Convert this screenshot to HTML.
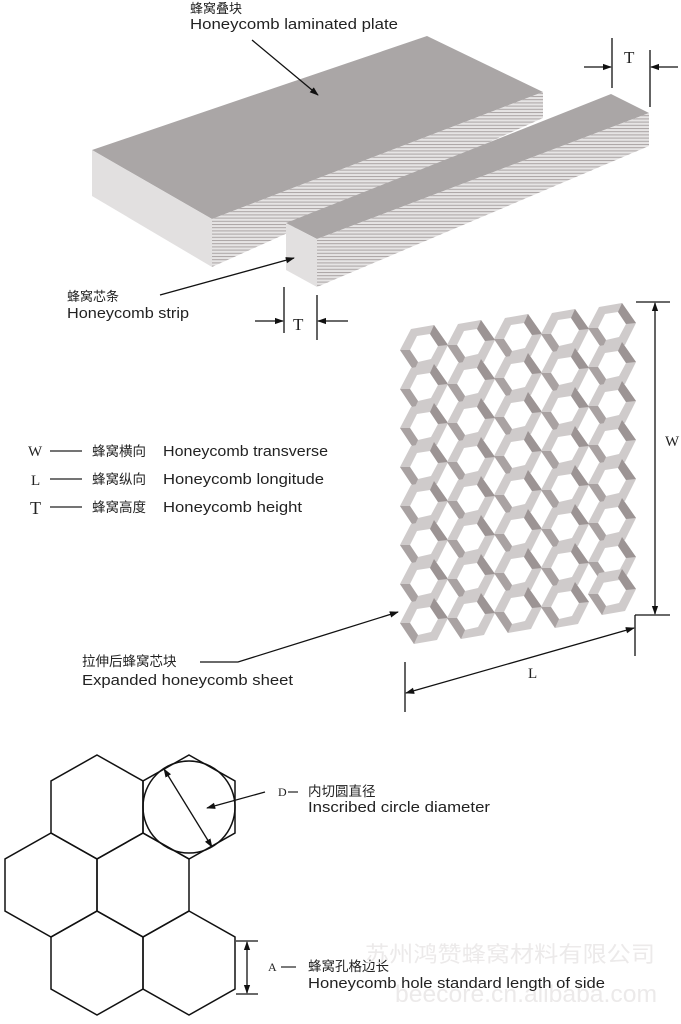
<!DOCTYPE html>
<html><head><meta charset="utf-8"><style>
html,body{margin:0;padding:0;background:#fff;}
svg{display:block;}
text{font-family:"Liberation Sans","Noto Sans CJK SC",sans-serif;fill:#222;}
.s{font-family:"Liberation Serif","Noto Serif CJK SC",serif;}
</style></head><body>
<svg width="681" height="1024" viewBox="0 0 681 1024" xmlns="http://www.w3.org/2000/svg">
<defs>
<marker id="ar" viewBox="0 0 10 10" refX="9" refY="5" markerWidth="7" markerHeight="7" orient="auto-start-reverse"><path d="M0,1.5 L10,5 L0,8.5 z" fill="#111"/></marker>
<pattern id="str" width="3" height="3.2" patternUnits="userSpaceOnUse"><rect width="3" height="3.2" fill="#e6e4e4"/><rect width="3" height="1" fill="#aaa4a4"/></pattern>
<g id="cell">
<path d="M-24,2 L-13,-19 L10,-23 L24,-3 L13,19 L-10,23 Z M-14,2 L-7,-12 L6,-14 L14,-2 L7,11 L-6,14 Z" fill="#cfcbcb" fill-rule="evenodd"/>
<path d="M10,-23 L24,-3 L14,-2 L6,-14 Z" fill="#9c9494"/>
<path d="M-24,2 L-14,2 L-6,14 L-10,23 Z" fill="#a9a2a2"/>
</g>
</defs>

<text x="190" y="13" font-size="13">蜂窝叠块</text>
<text x="190" y="29" font-size="15" textLength="208" lengthAdjust="spacingAndGlyphs">Honeycomb laminated plate</text>

<polygon points="92,150 427,36 543,92 212,219" fill="#aaa6a6"/>
<polygon points="92,150 212,219 212,267 92,196" fill="#e2e0e0"/>
<polygon points="212,219 543,92 543,118 212,267" fill="url(#str)"/>
<polygon points="286,223 611,94 649,113 317,239" fill="#aaa6a6"/>
<polygon points="286,223 317,239 317,287 286,270" fill="#e2e0e0"/>
<polygon points="317,239 649,113 649,146 317,287" fill="url(#str)"/>

<line x1="252" y1="40" x2="318" y2="95" stroke="#111" stroke-width="1.3" marker-end="url(#ar)"/>
<line x1="160" y1="295" x2="294" y2="258" stroke="#111" stroke-width="1.3" marker-end="url(#ar)"/>
<text x="67" y="301" font-size="13">蜂窝芯条</text>
<text x="67" y="318" font-size="15" textLength="122" lengthAdjust="spacingAndGlyphs">Honeycomb strip</text>

<line x1="612" y1="38" x2="612" y2="88" stroke="#111" stroke-width="1.3"/>
<line x1="650" y1="50" x2="650" y2="107" stroke="#111" stroke-width="1.3"/>
<line x1="584" y1="67" x2="611" y2="67" stroke="#111" stroke-width="1.3" marker-end="url(#ar)"/>
<line x1="678" y1="67" x2="651" y2="67" stroke="#111" stroke-width="1.3" marker-end="url(#ar)"/>
<text x="624" y="63" font-size="17" class="s">T</text>
<line x1="284" y1="287" x2="284" y2="333" stroke="#111" stroke-width="1.3"/>
<line x1="317" y1="295" x2="317" y2="340" stroke="#111" stroke-width="1.3"/>
<line x1="255" y1="321" x2="283" y2="321" stroke="#111" stroke-width="1.3" marker-end="url(#ar)"/>
<line x1="348" y1="321" x2="318" y2="321" stroke="#111" stroke-width="1.3" marker-end="url(#ar)"/>
<text x="293" y="330" font-size="17" class="s">T</text>

<g>
<use href="#cell" x="424" y="348"/><use href="#cell" x="424" y="387"/><use href="#cell" x="424" y="426"/><use href="#cell" x="424" y="465"/><use href="#cell" x="424" y="504"/><use href="#cell" x="424" y="543"/><use href="#cell" x="424" y="582"/><use href="#cell" x="424" y="621"/>
<use href="#cell" x="471" y="343"/><use href="#cell" x="471" y="382"/><use href="#cell" x="471" y="421"/><use href="#cell" x="471" y="460"/><use href="#cell" x="471" y="499"/><use href="#cell" x="471" y="538"/><use href="#cell" x="471" y="577"/><use href="#cell" x="471" y="616"/>
<use href="#cell" x="518" y="337"/><use href="#cell" x="518" y="376"/><use href="#cell" x="518" y="415"/><use href="#cell" x="518" y="454"/><use href="#cell" x="518" y="493"/><use href="#cell" x="518" y="532"/><use href="#cell" x="518" y="571"/><use href="#cell" x="518" y="610"/>
<use href="#cell" x="565" y="332"/><use href="#cell" x="565" y="371"/><use href="#cell" x="565" y="410"/><use href="#cell" x="565" y="449"/><use href="#cell" x="565" y="488"/><use href="#cell" x="565" y="527"/><use href="#cell" x="565" y="566"/><use href="#cell" x="565" y="605"/>
<use href="#cell" x="612" y="326"/><use href="#cell" x="612" y="365"/><use href="#cell" x="612" y="404"/><use href="#cell" x="612" y="443"/><use href="#cell" x="612" y="482"/><use href="#cell" x="612" y="521"/><use href="#cell" x="612" y="560"/><use href="#cell" x="612" y="592"/>
</g>

<line x1="636" y1="302" x2="670" y2="302" stroke="#111" stroke-width="1.3"/>
<line x1="635" y1="615" x2="670" y2="615" stroke="#111" stroke-width="1.3"/>
<line x1="655" y1="303" x2="655" y2="614" stroke="#111" stroke-width="1.3" marker-start="url(#ar)" marker-end="url(#ar)"/>
<text x="665" y="446" font-size="15" class="s">W</text>
<line x1="635" y1="615" x2="635" y2="656" stroke="#111" stroke-width="1.3"/>
<line x1="405" y1="662" x2="405" y2="712" stroke="#111" stroke-width="1.3"/>
<line x1="406" y1="693" x2="634" y2="628" stroke="#111" stroke-width="1.3" marker-start="url(#ar)" marker-end="url(#ar)"/>
<text x="528" y="678" font-size="15" class="s">L</text>

<text x="28" y="456" font-size="15" class="s">W</text>
<line x1="50" y1="451" x2="82" y2="451" stroke="#222" stroke-width="1.2"/>
<text x="92" y="456" font-size="13.5">蜂窝横向</text>
<text x="163" y="456" font-size="15" textLength="165" lengthAdjust="spacingAndGlyphs">Honeycomb transverse</text>
<text x="31" y="485" font-size="15" class="s">L</text>
<line x1="50" y1="479" x2="82" y2="479" stroke="#222" stroke-width="1.2"/>
<text x="92" y="484" font-size="13.5">蜂窝纵向</text>
<text x="163" y="484" font-size="15" textLength="161" lengthAdjust="spacingAndGlyphs">Honeycomb longitude</text>
<text x="30" y="514" font-size="18" class="s">T</text>
<line x1="50" y1="507" x2="82" y2="507" stroke="#222" stroke-width="1.2"/>
<text x="92" y="512" font-size="13.5">蜂窝高度</text>
<text x="163" y="512" font-size="15" textLength="139" lengthAdjust="spacingAndGlyphs">Honeycomb height</text>

<text x="82" y="666" font-size="13.5">拉伸后蜂窝芯块</text>
<text x="82" y="685" font-size="15" textLength="211" lengthAdjust="spacingAndGlyphs">Expanded honeycomb sheet</text>
<polyline points="200,662 238,662 398,612" fill="none" stroke="#111" stroke-width="1.3" marker-end="url(#ar)"/>

<g fill="none" stroke="#111" stroke-width="1.5">
<polygon points="97,755 143,781 143,833 97,859 51,833 51,781"/>
<polygon points="189,755 235,781 235,833 189,859 143,833 143,781"/>
<polygon points="51,833 97,859 97,911 51,937 5,911 5,859"/>
<polygon points="143,833 189,859 189,911 143,937 97,911 97,859"/>
<polygon points="97,911 143,937 143,989 97,1015 51,989 51,937"/>
<polygon points="189,911 235,937 235,989 189,1015 143,989 143,937"/>
<circle cx="189" cy="807" r="46"/>
</g>
<line x1="164" y1="769" x2="212" y2="847" stroke="#111" stroke-width="1.3" marker-start="url(#ar)" marker-end="url(#ar)"/>
<line x1="265" y1="792" x2="207" y2="808" stroke="#111" stroke-width="1.3" marker-end="url(#ar)"/>
<text x="278" y="796" font-size="12" class="s">D</text>
<line x1="288" y1="792" x2="298" y2="792" stroke="#222" stroke-width="1.2"/>
<text x="308" y="796" font-size="13.5">内切圆直径</text>
<text x="308" y="812" font-size="15" textLength="182" lengthAdjust="spacingAndGlyphs">Inscribed circle diameter</text>

<line x1="236" y1="941" x2="258" y2="941" stroke="#111" stroke-width="1.3"/>
<line x1="236" y1="994" x2="258" y2="994" stroke="#111" stroke-width="1.3"/>
<line x1="247" y1="942" x2="247" y2="993" stroke="#111" stroke-width="1.3" marker-start="url(#ar)" marker-end="url(#ar)"/>
<text x="268" y="971" font-size="12" class="s">A</text>
<line x1="281" y1="967" x2="296" y2="967" stroke="#222" stroke-width="1.2"/>
<text x="308" y="971" font-size="13.5">蜂窝孔格边长</text>

<text x="365" y="962" font-size="22" textLength="290" lengthAdjust="spacingAndGlyphs" style="fill:#eceaea">苏州鸿赞蜂窝材料有限公司</text>
<text x="395" y="1002" font-size="24" textLength="262" lengthAdjust="spacingAndGlyphs" style="fill:#eceaea">beecore.cn.alibaba.com</text>
<text x="308" y="988" font-size="15" textLength="297" lengthAdjust="spacingAndGlyphs">Honeycomb hole standard length of side</text>
</svg>
</body></html>
